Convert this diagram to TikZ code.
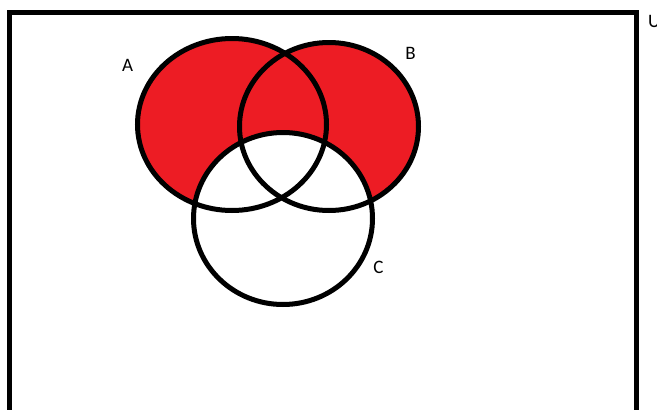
\documentclass[tikz,border=0pt]{standalone}
\usepackage{fontspec}
\setmainfont{Carlito}
\usepackage{xcolor}
\definecolor{vennred}{HTML}{ED1C24}
\tikzset{
  setline/.style={line width=5pt, draw=black},
  setlabel/.style={font=\fontsize{19}{19}\selectfont, inner sep=0pt}
}
\begin{document}
\begin{tikzpicture}[x=1pt, y=-1pt]
  \useasboundingbox (0,0) rectangle (657,410);
  \clip (0,0) rectangle (657,410);
  % universe
  \draw[line width=4.5pt] (9.5,430) |- (636.5,12.5) -- (636.5,430);
  \node[setlabel, anchor=west] (u) at (648,21) {U};
  % (A or B) without C
  \fill[vennred] (232,124.5) ellipse [x radius=94.5, y radius=86];
  \fill[vennred] (329,126.5) ellipse [x radius=89.5, y radius=84];
  \fill[white] (283,218.5) ellipse [x radius=89.5, y radius=86];
  % outlines
  \draw[setline] (232,124.5) ellipse [x radius=94.5, y radius=86];
  \draw[setline] (329,126.5) ellipse [x radius=89.5, y radius=84];
  \draw[setline] (283,218.5) ellipse [x radius=89.5, y radius=86];
  \node[setlabel] (a) at (127.5,65.5) {A};
  \node[setlabel] (b) at (410.5,53) {B};
  \node[setlabel] (c) at (378.5,267.5) {C};
\end{tikzpicture}
\end{document}
